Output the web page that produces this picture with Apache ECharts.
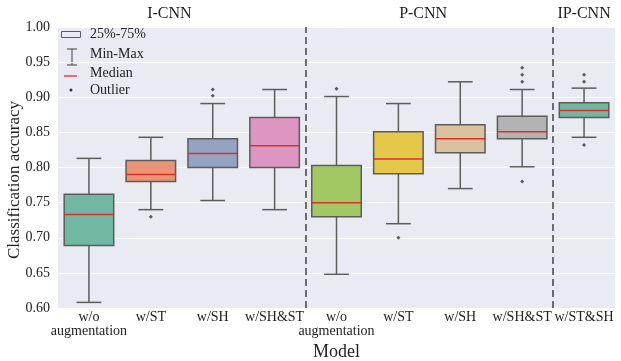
<!DOCTYPE html>
<html><head><meta charset="utf-8">
<script src="https://cdn.jsdelivr.net/npm/echarts@6/dist/echarts.min.js"></script>
<style>html,body{margin:0;padding:0;background:#fff}#c{width:621px;height:361px}</style>
</head><body><div id="c"></div>
<script>
var categories = ['w/o\naugmentation','w/ST','w/SH','w/SH&ST','w/o\naugmentation','w/ST','w/SH','w/SH&ST','w/ST&SH'];
// [min, Q1, median, Q3, max]
var boxStats = [
  [0.608, 0.689, 0.733, 0.762, 0.813],
  [0.740, 0.780, 0.790, 0.810, 0.843],
  [0.753, 0.800, 0.820, 0.841, 0.891],
  [0.740, 0.800, 0.831, 0.871, 0.911],
  [0.648, 0.730, 0.750, 0.803, 0.901],
  [0.720, 0.791, 0.812, 0.851, 0.891],
  [0.770, 0.821, 0.841, 0.861, 0.922],
  [0.801, 0.841, 0.851, 0.873, 0.911],
  [0.843, 0.871, 0.881, 0.892, 0.913]
];
var outliers = [
  [1, 0.730],
  [2, 0.902], [2, 0.911],
  [4, 0.912],
  [5, 0.700],
  [7, 0.780], [7, 0.922], [7, 0.932], [7, 0.942],
  [8, 0.832], [8, 0.922], [8, 0.932]
];
var boxColors = ['#71b7a1','#e99575','#95a3c3','#dc96c1','#a2c864','#e5c849','#dbc29e','#b3b3b3','#71b7a1'];
var groupNames = ['I-CNN','P-CNN','IP-CNN'];
var groupCenters = [1.8, 5.9, 8.5];
var groupSeparators = [4, 8];
var yTicks = {min: 0.60, max: 1.00, interval: 0.05};
var legendLabels = ['25%-75%','Min-Max','Median','Outlier'];
var xTitle = 'Model';
var yTitle = 'Classification accuracy';

var FONT = '"Liberation Serif","DejaVu Serif",serif';
var LINE = '#5c5c5c';
var MED = '#d8302a';
var G = {left: 58, right: 6, top: 27, bottom: 53};
var plotW = 621 - G.left - G.right;

var chart = echarts.init(document.getElementById('c'), null, {renderer: 'canvas'});

var boxData = boxStats.map(function (s, i) { return [i].concat(s); });

var graphics = [];
groupNames.forEach(function (n, i) {
  graphics.push({type: 'text', x: G.left + plotW * groupCenters[i] / 9, y: 14,
    style: {text: n, align: 'center', verticalAlign: 'middle', textAlign: 'center', textVerticalAlign: 'middle',
      font: '16px ' + FONT, fill: '#222'}});
});
graphics.push({type: 'text', x: 15, y: 180, rotation: Math.PI / 2,
  style: {text: yTitle, align: 'center', verticalAlign: 'middle', textAlign: 'center', textVerticalAlign: 'middle',
    font: '17px ' + FONT, fill: '#222'}});
// legend
graphics.push({type: 'rect', shape: {x: 61.5, y: 31.5, width: 19, height: 6}, style: {fill: 'none', stroke: LINE, lineWidth: 1}});
graphics.push({type: 'line', shape: {x1: 72, y1: 49, x2: 72, y2: 65}, style: {stroke: LINE, lineWidth: 1.2}});
graphics.push({type: 'line', shape: {x1: 67, y1: 49, x2: 77, y2: 49}, style: {stroke: LINE, lineWidth: 1.2}});
graphics.push({type: 'line', shape: {x1: 67, y1: 65, x2: 77, y2: 65}, style: {stroke: LINE, lineWidth: 1.2}});
graphics.push({type: 'line', shape: {x1: 64, y1: 76, x2: 77, y2: 76}, style: {stroke: MED, lineWidth: 1.3}});
graphics.push({type: 'circle', shape: {cx: 71, cy: 90, r: 1.5}, style: {fill: '#333'}});
var legY = [34, 54, 73, 90];
legendLabels.forEach(function (t, i) {
  graphics.push({type: 'text', x: 90, y: legY[i],
    style: {text: t, verticalAlign: 'middle', textVerticalAlign: 'middle', font: '14px ' + FONT, fill: '#222'}});
});

chart.setOption({
  animation: false,
  backgroundColor: '#fff',
  grid: {left: G.left, right: G.right, top: G.top, bottom: G.bottom, show: true, backgroundColor: '#eaeaf2', borderWidth: 0,
    outerBoundsMode: 'none', containLabel: false},
  xAxis: [{
    type: 'category', data: categories, boundaryGap: true,
    axisLine: {show: false}, axisTick: {show: false}, splitLine: {show: false},
    axisLabel: {interval: 0, fontFamily: FONT, fontSize: 14, color: '#222', lineHeight: 14, margin: 2},
    name: xTitle, nameLocation: 'middle', nameGap: 26,
    nameTextStyle: {fontFamily: FONT, fontSize: 18, color: '#222'}
  }, {
    type: 'value', min: 0, max: 9, show: false
  }],
  yAxis: {
    type: 'value', min: yTicks.min, max: yTicks.max, interval: yTicks.interval,
    axisLine: {show: false}, axisTick: {show: false},
    splitLine: {lineStyle: {color: '#ffffff', width: 1}},
    axisLabel: {formatter: function (v) { return v.toFixed(2); }, fontFamily: FONT, fontSize: 14, color: '#222', margin: 8}
  },
  graphic: graphics,
  series: [{
    type: 'custom',
    data: boxData,
    encode: {x: 0, y: [1, 2, 3, 4, 5]},
    renderItem: function (params, api) {
      var i = api.value(0);
      var bw = api.size([1, 0])[0];
      var hw = bw * 0.4, cw = bw * 0.2;
      var x = api.coord([i, 0])[0];
      var yMin = api.coord([i, api.value(1)])[1];
      var yQ1 = api.coord([i, api.value(2)])[1];
      var yMed = api.coord([i, api.value(3)])[1];
      var yQ3 = api.coord([i, api.value(4)])[1];
      var yMax = api.coord([i, api.value(5)])[1];
      var ls = {stroke: LINE, lineWidth: 1.5};
      return {type: 'group', children: [
        {type: 'line', shape: {x1: x, y1: yQ3, x2: x, y2: yMax}, style: ls},
        {type: 'line', shape: {x1: x, y1: yQ1, x2: x, y2: yMin}, style: ls},
        {type: 'line', shape: {x1: x - cw, y1: yMax, x2: x + cw, y2: yMax}, style: ls},
        {type: 'line', shape: {x1: x - cw, y1: yMin, x2: x + cw, y2: yMin}, style: ls},
        {type: 'rect', shape: {x: x - hw, y: yQ3, width: hw * 2, height: yQ1 - yQ3},
          style: {fill: boxColors[i], stroke: LINE, lineWidth: 1.5}},
        {type: 'line', shape: {x1: x - hw, y1: yMed, x2: x + hw, y2: yMed}, style: {stroke: MED, lineWidth: 1.5}}
      ]};
    },
    z: 3
  }, {
    type: 'scatter', data: outliers, symbol: 'diamond', symbolSize: 4,
    itemStyle: {color: '#333'}, z: 4
  }, {
    type: 'line', xAxisIndex: 1, data: [], z: 5,
    markLine: {
      silent: true, symbol: 'none', label: {show: false},
      lineStyle: {color: '#444', type: [7, 4], width: 1.5},
      data: groupSeparators.map(function (v) { return {xAxis: v}; })
    }
  }]
});
</script></body></html>
